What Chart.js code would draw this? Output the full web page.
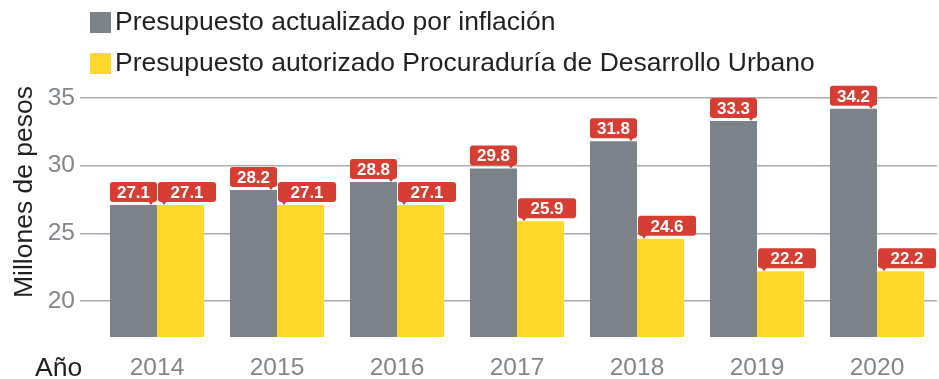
<!DOCTYPE html>
<html lang="es">
<head>
<meta charset="utf-8">
<title>Presupuesto PDU</title>
<script src="https://cdn.jsdelivr.net/npm/chart.js@4.4.0/dist/chart.umd.min.js"></script>
<style>
  html, body { margin: 0; padding: 0; background: #fff; }
  #wrap { position: relative; width: 939px; height: 379px; }
</style>
</head>
<body>
<div id="wrap"><canvas id="pduChart"></canvas></div>
<script>
// Datos (millones de pesos)
const years = ["2014", "2015", "2016", "2017", "2018", "2019", "2020"];
const actualizadoInflacion = [27.1, 28.2, 28.8, 29.8, 31.8, 33.3, 34.2];
const autorizadoPDU = [27.1, 27.1, 27.1, 25.9, 24.6, 22.2, 22.2];
const seriesNames = [
    "Presupuesto actualizado por inflación",
    "Presupuesto autorizado Procuraduría de Desarrollo Urbano",
];
const yTicks = [20, 25, 30, 35];

const FONT = "'Liberation Sans', Arial, sans-serif";
const GRAY = "#7c8289";
const YELLOW = "#ffd829";
const RED = "#d63e33";
const TICK_GRAY = "#80868c";
const TEXT = "#231f20";

// red value tags sitting on top of each bar
const valueTags = {
    id: "valueTags",
    afterDatasetsDraw(chart) {
        const ctx = chart.ctx;
        ctx.save();
        ctx.font = "bold 17px " + FONT;
        ctx.textAlign = "center";
        ctx.textBaseline = "middle";
        chart.data.datasets.forEach((ds, di) => {
            const meta = chart.getDatasetMeta(di);
            meta.data.forEach((bar, i) => {
                const left0 = bar.x - bar.width / 2;
                let left, w, tipX;
                if (di === 0) {
                    left = left0;
                    w = bar.width;
                    tipX = left + w - 6;
                } else {
                    left = left0 + 1;
                    w = bar.width + 11;
                    tipX = left + 6;
                }
                const bottom = bar.y - 3;
                const h = 20;
                ctx.fillStyle = RED;
                ctx.beginPath();
                ctx.roundRect(left, bottom - h, w, h, 3);
                ctx.fill();
                ctx.beginPath();
                ctx.moveTo(tipX - 3, bottom - 1);
                ctx.lineTo(tipX + 3, bottom - 1);
                ctx.lineTo(tipX, bottom + 3);
                ctx.closePath();
                ctx.fill();
                ctx.fillStyle = "#fff";
                ctx.fillText(ds.data[i].toFixed(1), left + w / 2, bottom - h / 2 + 1);
            });
        });
        ctx.restore();
    },
};

// legend rows, y axis title and the "Año" caption
const extraText = {
    id: "extraText",
    afterDraw(chart) {
        const ctx = chart.ctx;
        ctx.save();
        ctx.font = "26.5px " + FONT;
        ctx.textBaseline = "middle";
        ctx.textAlign = "left";
        chart.data.datasets.forEach((ds, i) => {
            const cy = 22 + i * 41;
            ctx.fillStyle = ds.backgroundColor;
            ctx.fillRect(90, cy - 10, 21, 21);
            ctx.fillStyle = TEXT;
            ctx.fillText(ds.label, 115, cy + 1);
        });

        ctx.fillStyle = TEXT;
        ctx.fillText("Año", 35, 369);

        ctx.translate(25, 192);
        ctx.rotate(-Math.PI / 2);
        ctx.textAlign = "center";
        ctx.fillText("Millones de pesos", 0, 0);
        ctx.restore();
    },
};

const ctx = document.getElementById("pduChart").getContext("2d");
const pduChart = new Chart(ctx, {
    type: "bar",
    data: {
        labels: years,
        datasets: [
            {
                label: seriesNames[0],
                data: actualizadoInflacion,
                backgroundColor: GRAY,
            },
            {
                label: seriesNames[1],
                data: autorizadoPDU,
                backgroundColor: YELLOW,
            },
        ],
    },
    options: {
        responsive: true,
        maintainAspectRatio: false,
        animation: false,
        datasets: {
            bar: { categoryPercentage: 0.784, barPercentage: 1.0 },
        },
        layout: { padding: { top: 98, right: 2, left: 0, bottom: 0 } },
        plugins: {
            legend: { display: false },
            tooltip: { enabled: false },
        },
        scales: {
            x: {
                offset: true,
                grid: { display: false, drawTicks: false },
                border: { display: false },
                ticks: {
                    color: TICK_GRAY,
                    font: { family: FONT, size: 24.5 },
                    padding: 17,
                },
                afterFit(scale) {
                    scale.height = 42;
                },
            },
            y: {
                min: 17.35,
                max: 35,
                border: { display: false },
                grid: {
                    color: "#a9adb1",
                    lineWidth: 1.5,
                    drawTicks: true,
                    tickLength: 17,
                },
                ticks: {
                    color: TICK_GRAY,
                    font: { family: FONT, size: 24.5 },
                    padding: 5,
                },
                afterBuildTicks(scale) {
                    scale.ticks = yTicks.map((v) => ({ value: v }));
                },
                afterFit(scale) {
                    scale.width = 97;
                },
            },
        },
    },
    plugins: [valueTags, extraText],
});
</script>
</body>
</html>
